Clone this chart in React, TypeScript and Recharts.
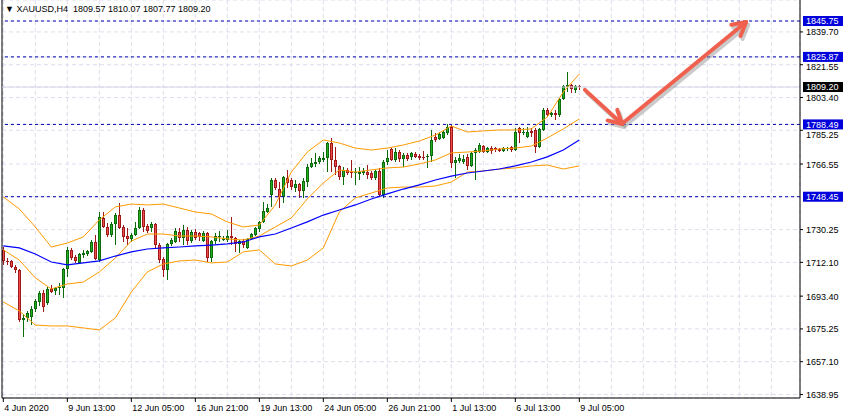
import React from "react";
import {
  ComposedChart,
  Bar,
  Line,
  XAxis,
  YAxis,
  CartesianGrid,
  ReferenceLine
} from "recharts";

// XAUUSD H4 candles, one entry per bar (bar 0 = leftmost)
const opens = [
  1719.0, 1712.9, 1712.9, 1709.6, 1707.9, 1680.2, 1681.3, 1681.9, 1686.3, 1690.2,
  1695.2, 1689.6, 1697.4, 1696.3, 1697.9, 1697.9, 1708.5, 1719.0, 1715.1, 1711.8,
  1716.2, 1716.7, 1717.9, 1723.4, 1713.4, 1736.7, 1731.7, 1727.3, 1733.4, 1738.3,
  1731.7, 1726.7, 1725.1, 1727.3, 1731.2, 1741.1, 1732.3, 1731.2, 1733.4, 1721.7,
  1714.0, 1707.9, 1722.3, 1723.4, 1728.9, 1725.6, 1730.0, 1723.9, 1728.9, 1728.4,
  1723.9, 1728.4, 1714.5, 1723.9, 1726.2, 1725.1, 1724.5, 1726.7, 1725.6, 1722.3,
  1723.9, 1720.1, 1725.1, 1727.3, 1730.6, 1734.5, 1740.0, 1749.4, 1757.7, 1752.7,
  1748.3, 1758.8, 1757.7, 1753.3, 1755.5, 1751.6, 1756.6, 1764.9, 1766.6, 1767.7,
  1768.8, 1769.9, 1778.2, 1768.8, 1765.5, 1759.4, 1763.3, 1762.1, 1761.6, 1761.0,
  1761.6, 1762.1, 1761.6, 1758.8, 1762.7, 1749.4, 1767.7, 1774.9, 1768.8, 1773.2,
  1769.3, 1771.6, 1770.4, 1772.1, 1771.0, 1770.4, 1770.4, 1771.0, 1781.5, 1780.4,
  1781.0, 1783.8, 1787.1, 1767.1, 1768.2, 1767.7, 1770.4, 1765.5, 1772.7, 1773.2,
  1776.5, 1773.2, 1775.4, 1775.4, 1774.9, 1773.8, 1774.9, 1776.0, 1774.3, 1786.5,
  1783.8, 1781.5, 1784.9, 1785.4, 1776.0, 1785.4, 1796.5, 1793.7, 1794.8, 1793.7,
  1802.6, 1809.2, 1810.3, 1807.6, 1809.57
];
const highs = [
  1720.6, 1714.5, 1713.4, 1710.7, 1708.5, 1683.5, 1685.2, 1688.0, 1691.8, 1696.3,
  1696.8, 1698.5, 1699.6, 1698.5, 1700.7, 1709.0, 1720.6, 1720.1, 1716.2, 1717.3,
  1719.0, 1719.0, 1724.5, 1727.3, 1740.0, 1740.0, 1733.9, 1734.5, 1739.5, 1745.0,
  1732.8, 1731.2, 1728.4, 1734.5, 1742.8, 1742.2, 1733.4, 1734.5, 1733.9, 1722.8,
  1715.1, 1722.8, 1725.6, 1731.2, 1731.2, 1732.8, 1731.7, 1730.0, 1730.6, 1728.9,
  1729.5, 1728.9, 1724.5, 1728.4, 1729.5, 1726.7, 1730.0, 1737.2, 1726.2, 1724.5,
  1725.1, 1725.6, 1728.4, 1731.7, 1735.0, 1745.5, 1744.4, 1758.8, 1758.8, 1756.6,
  1759.9, 1763.3, 1758.8, 1757.7, 1756.1, 1758.8, 1766.6, 1769.9, 1772.7, 1771.0,
  1773.2, 1778.8, 1781.0, 1776.0, 1766.0, 1764.9, 1764.4, 1768.8, 1764.4, 1764.9,
  1764.4, 1766.0, 1762.7, 1763.3, 1764.4, 1768.8, 1774.3, 1775.4, 1775.4, 1774.3,
  1772.7, 1772.7, 1773.2, 1773.2, 1772.1, 1773.8, 1772.1, 1785.4, 1783.8, 1784.3,
  1785.4, 1788.7, 1788.2, 1770.4, 1772.1, 1771.6, 1772.1, 1773.2, 1775.4, 1778.2,
  1777.1, 1776.0, 1776.5, 1776.0, 1775.4, 1776.0, 1776.0, 1776.5, 1786.5, 1787.1,
  1786.5, 1787.1, 1786.5, 1786.5, 1786.5, 1797.6, 1797.6, 1795.4, 1796.5, 1803.1,
  1810.3, 1817.5, 1810.9, 1810.3, 1810.07
];
const lows = [
  1710.7, 1710.7, 1709.0, 1706.2, 1679.1, 1670.8, 1679.1, 1677.4, 1684.6, 1688.0,
  1684.6, 1688.5, 1695.2, 1694.1, 1694.1, 1692.4, 1704.0, 1713.4, 1711.8, 1711.2,
  1714.5, 1715.6, 1717.3, 1713.4, 1712.3, 1731.2, 1726.2, 1726.2, 1721.7, 1730.6,
  1723.4, 1721.7, 1723.4, 1726.7, 1730.6, 1728.9, 1728.4, 1728.9, 1720.1, 1711.8,
  1704.0, 1702.4, 1721.2, 1722.8, 1723.4, 1721.7, 1721.7, 1722.8, 1724.5, 1723.9,
  1723.4, 1712.3, 1712.3, 1722.3, 1723.4, 1723.9, 1723.4, 1721.7, 1717.9, 1717.3,
  1720.1, 1719.5, 1724.5, 1726.7, 1728.9, 1733.9, 1739.5, 1742.8, 1752.2, 1742.2,
  1745.0, 1753.3, 1752.2, 1751.1, 1747.8, 1747.8, 1753.8, 1764.4, 1764.9, 1766.6,
  1767.7, 1762.1, 1762.1, 1760.5, 1757.7, 1755.0, 1760.5, 1758.8, 1755.0, 1757.7,
  1760.5, 1758.3, 1757.7, 1757.7, 1748.3, 1747.8, 1766.0, 1768.2, 1767.7, 1767.7,
  1764.9, 1768.2, 1768.8, 1769.9, 1768.8, 1768.8, 1764.4, 1767.7, 1778.8, 1779.9,
  1780.4, 1782.6, 1764.4, 1758.8, 1767.1, 1766.6, 1763.3, 1764.9, 1757.7, 1772.7,
  1772.7, 1772.7, 1772.1, 1773.2, 1773.2, 1773.2, 1773.8, 1773.2, 1773.8, 1778.2,
  1782.6, 1781.0, 1781.5, 1772.7, 1775.4, 1784.9, 1792.6, 1792.6, 1791.0, 1792.6,
  1802.0, 1806.4, 1805.9, 1805.9, 1807.77
];
const closes = [
  1712.9, 1712.3, 1709.6, 1707.9, 1680.2, 1681.3, 1684.1, 1686.3, 1690.7, 1695.2,
  1687.4, 1697.4, 1695.7, 1697.9, 1698.5, 1708.5, 1719.0, 1714.5, 1712.9, 1716.7,
  1717.3, 1718.4, 1723.4, 1714.0, 1737.2, 1731.7, 1727.3, 1733.4, 1738.3, 1731.2,
  1726.2, 1725.1, 1727.3, 1731.2, 1741.1, 1731.7, 1729.5, 1733.4, 1721.7, 1713.4,
  1707.9, 1722.3, 1724.5, 1729.5, 1725.6, 1730.0, 1723.9, 1728.9, 1725.6, 1726.2,
  1728.4, 1714.5, 1723.9, 1726.7, 1726.7, 1725.3, 1726.7, 1725.6, 1722.3, 1723.9,
  1721.7, 1725.1, 1727.8, 1731.2, 1734.5, 1740.6, 1742.2, 1757.7, 1753.3, 1748.3,
  1759.4, 1756.1, 1753.8, 1755.5, 1751.6, 1757.2, 1764.9, 1767.1, 1767.7, 1769.9,
  1769.9, 1778.2, 1768.8, 1764.9, 1759.4, 1763.3, 1761.6, 1761.6, 1762.1, 1762.1,
  1762.7, 1760.5, 1758.8, 1762.7, 1749.4, 1767.7, 1769.9, 1768.8, 1773.2, 1769.3,
  1771.6, 1769.3, 1772.7, 1770.4, 1769.9, 1769.9, 1771.0, 1779.9, 1779.9, 1783.2,
  1784.3, 1787.1, 1767.1, 1768.8, 1769.9, 1769.3, 1765.5, 1772.7, 1774.3, 1777.1,
  1773.2, 1775.4, 1773.8, 1774.3, 1773.8, 1775.4, 1775.4, 1774.3, 1784.3, 1783.8,
  1784.3, 1784.3, 1783.8, 1776.0, 1786.0, 1796.5, 1793.7, 1794.8, 1793.7, 1802.6,
  1809.8, 1810.3, 1808.1, 1809.8, 1809.2
];

// indicator lines
const bandStep = 4;
const bbUpper = [
  1748.3, 1741.7, 1731.7, 1720.6, 1722.8, 1726.2, 1735.6, 1742.8, 1744.4, 1743.9,
  1744.4, 1742.2, 1740.0, 1738.9, 1734.5, 1731.7, 1732.8, 1743.9, 1762.1, 1773.2,
  1779.9, 1778.2, 1775.4, 1774.3, 1775.4, 1777.1, 1779.3, 1782.6, 1787.6, 1784.3,
  1784.9, 1785.4, 1785.4, 1786.0, 1792.6, 1806.4, 1816.4
];
const bbMiddle = [
  1719.0, 1713.4, 1703.5, 1697.4, 1700.1, 1701.2, 1706.8, 1714.5, 1723.9, 1727.8,
  1727.8, 1726.7, 1726.7, 1726.2, 1725.1, 1724.5, 1726.7, 1731.7, 1736.7, 1747.2,
  1756.1, 1763.3, 1762.1, 1763.3, 1764.4, 1764.9, 1766.6, 1768.8, 1772.7, 1773.2,
  1773.8, 1774.9, 1775.4, 1776.5, 1781.0, 1786.0, 1791.5
];
const bbLower = [
  1690.2, 1685.2, 1677.4, 1676.9, 1676.9, 1675.8, 1674.7, 1681.3, 1695.7, 1706.8,
  1711.2, 1712.9, 1713.4, 1711.8, 1712.3, 1717.9, 1719.0, 1711.2, 1710.1, 1713.4,
  1720.1, 1740.0, 1747.8, 1750.5, 1753.3, 1753.8, 1753.8, 1754.4, 1756.6, 1762.1,
  1762.7, 1763.8, 1764.4, 1765.5, 1766.0, 1763.8, 1765.5
];
const maSlow = [
  1721.2, 1720.1, 1716.7, 1712.3, 1710.7, 1711.8, 1712.9, 1715.6, 1717.9, 1719.5,
  1720.1, 1720.6, 1721.2, 1721.7, 1722.3, 1723.4, 1726.2, 1727.8, 1731.1, 1734.5,
  1738.3, 1741.1, 1743.9, 1747.2, 1750.0, 1752.7, 1755.0, 1757.7, 1759.9, 1761.6,
  1762.7, 1763.8, 1765.5, 1767.7, 1770.5, 1774.3, 1779.9
];

const priceTicks = [
  1638.95, 1657.1, 1675.25, 1693.4, 1712.1, 1730.25, 1766.55, 1785.25,
  1803.4, 1821.55, 1839.7
];
const timeLabelBars = [0, 16, 32, 48, 64, 80, 96, 112, 128, 144];
const timeLabels = [
  "4 Jun 2020", "9 Jun 13:00", "12 Jun 05:00", "16 Jun 21:00", "19 Jun 13:00",
  "24 Jun 05:00", "26 Jun 21:00", "1 Jul 13:00", "6 Jul 13:00", "9 Jul 05:00"
];
const levels = [1845.75, 1825.87, 1788.49, 1748.45];
const bid = 1809.2;
const arrowLegs = [
  { x1: 145.4, y1: 1807.6, x2: 154.7, y2: 1788.7 },
  { x1: 154.9, y1: 1789.3, x2: 185.7, y2: 1845.2 }
];

const X_DOMAIN: [number, number] = [-0.33, 199.17];
const Y_DOMAIN: [number, number] = [1637.0, 1857.38];
const PLOT_H = 398;
const PX_PER_UNIT = PLOT_H / (Y_DOMAIN[1] - Y_DOMAIN[0]);
const gridBars = Array.from({ length: 25 }, (_, k) => k * 8);
const FONT = "'Liberation Sans', Arial, sans-serif";
// plain labels first, then the price tags so they sit on top
const axisTicks = [...priceTicks, bid, ...levels];

const rows = opens.map((o, i) => {
  const onStep = i % bandStep === 0;
  const k = i / bandStep;
  return {
    i,
    o,
    h: highs[i],
    l: lows[i],
    c: closes[i],
    range: [lows[i], highs[i]],
    upper: onStep ? bbUpper[k] : null,
    middle: onStep ? bbMiddle[k] : null,
    lower: onStep ? bbLower[k] : null,
    slow: onStep ? maSlow[k] : null
  };
});

const Candle = (props: any) => {
  const { x, y, width, height, payload } = props;
  if (!payload) return <g />;
  const { o, h, l, c } = payload;
  const top = Math.min(y, y + height);
  const span = Math.abs(height);
  const k = h === l ? 0 : span / (h - l);
  const yOf = (v: number) => top + (h - v) * k;
  const cx = Math.round(x + width / 2);
  const up = c >= o;
  const edge = up ? "#0b6b0b" : "#a01818";
  const fill = up ? "#22b022" : "#ec4e4e";
  const bTop = yOf(Math.max(o, c));
  const bH = Math.max(1, yOf(Math.min(o, c)) - bTop);
  return (
    <g shapeRendering="crispEdges">
      <rect x={cx} y={top} width={1} height={Math.max(1, span)} fill={edge} />
      <rect x={cx - 1} y={bTop} width={3} height={bH} fill={edge} />
      {bH > 2 && <rect x={cx} y={bTop + 1} width={1} height={bH - 2} fill={fill} />}
    </g>
  );
};

const PriceTick = ({ x, y, payload }: any) => {
  const v = Number(payload.value);
  const isLevel = levels.includes(v);
  const isBid = v === bid;
  if (isLevel || isBid) {
    return (
      <g>
        <rect x={x + 3} y={y - 5} width={40} height={10} fill={isBid ? "#000" : "#0000dc"} />
        <text x={x + 6} y={y + 3.3} fontSize={9} fontFamily={FONT} fill="#fff">
          {v.toFixed(2)}
        </text>
      </g>
    );
  }
  // a tag just above pushes the plain label down a little so both stay readable
  let shift = 0;
  levels.forEach((lv) => {
    const gap = (lv - v) * PX_PER_UNIT;
    if (gap > 0 && gap < 14) shift = Math.max(shift, 13.5 - (gap + 3.5));
  });
  return (
    <g>
      <line x1={x} x2={x + 3} y1={y} y2={y} stroke="#000" />
      <text x={x + 6} y={y + 3.5 + shift} fontSize={9} fontFamily={FONT} fill="#000">
        {v.toFixed(2)}
      </text>
    </g>
  );
};

const TimeTick = ({ x, y, payload }: any) => {
  const k = timeLabelBars.indexOf(payload.value);
  if (k < 0) return <g />;
  return (
    <g>
      <line x1={x} x2={x} y1={y} y2={y + 4} stroke="#000" />
      <text x={x + 1} y={y + 13} fontSize={9} fontFamily={FONT} fill="#000">
        {timeLabels[k]}
      </text>
    </g>
  );
};

const ArrowShape = (p: any) => {
  const { x1, y1, x2, y2 } = p;
  if ([x1, y1, x2, y2].some((v) => typeof v !== "number")) return <g />;
  const ang = Math.atan2(y2 - y1, x2 - x1);
  const barb = 15;
  const spread = 0.5;
  const b1x = x2 - barb * Math.cos(ang - spread);
  const b1y = y2 - barb * Math.sin(ang - spread);
  const b2x = x2 - barb * Math.cos(ang + spread);
  const b2y = y2 - barb * Math.sin(ang + spread);
  const draw = (dx: number, dy: number, color: string, op: number) => (
    <g transform={`translate(${dx},${dy})`} opacity={op} stroke={color} strokeWidth={4} strokeLinecap="round" fill="none">
      <line x1={x1} y1={y1} x2={x2} y2={y2} />
      <line x1={x2} y1={y2} x2={b1x} y2={b1y} />
      <line x1={x2} y1={y2} x2={b2x} y2={b2y} />
    </g>
  );
  return (
    <g>
      {draw(2, 3, "#8c8c8c", 0.45)}
      {draw(0, 0, "#f0604e", 1)}
    </g>
  );
};

const App = () => {
  return (
    <div style={{ position: "absolute", left: 0, top: 0, width: 846, height: 419, background: "#fff" }}>
      <ComposedChart
        width={846}
        height={419}
        data={rows}
        margin={{ top: 0, right: 0, bottom: 0, left: 2 }}
      >
        <CartesianGrid stroke="#dedeee" strokeDasharray="4 3" />
        <XAxis
          dataKey="i"
          type="number"
          domain={X_DOMAIN}
          allowDataOverflow
          ticks={gridBars}
          interval={0}
          height={21}
          tickSize={0}
          tickMargin={0}
          tickLine={false}
          axisLine={{ stroke: "#000" }}
          tick={<TimeTick />}
        />
        <YAxis
          orientation="right"
          type="number"
          domain={Y_DOMAIN}
          allowDataOverflow
          ticks={axisTicks}
          interval={0}
          width={46}
          tickSize={0}
          tickMargin={0}
          tickLine={false}
          axisLine={{ stroke: "#000" }}
          tick={<PriceTick />}
        />
        <ReferenceLine x={X_DOMAIN[0]} stroke="#000" />
        <ReferenceLine y={bid} stroke="#d4d4e4" />
        {levels.map((v) => (
          <ReferenceLine key={v} y={v} stroke="#0000b4" strokeDasharray="3 3" />
        ))}
        <Line dataKey="upper" stroke="#ff9a00" strokeWidth={1} dot={false} connectNulls isAnimationActive={false} />
        <Line dataKey="middle" stroke="#ff9a00" strokeWidth={1} dot={false} connectNulls isAnimationActive={false} />
        <Line dataKey="lower" stroke="#ff9a00" strokeWidth={1} dot={false} connectNulls isAnimationActive={false} />
        <Line dataKey="slow" stroke="#0000ff" strokeWidth={1.2} dot={false} connectNulls isAnimationActive={false} />
        <Bar dataKey="range" barSize={3} shape={<Candle />} isAnimationActive={false} />
        {arrowLegs.map((a, k) => (
          <ReferenceLine
            key={k}
            segment={[{ x: a.x1, y: a.y1 }, { x: a.x2, y: a.y2 }]}
            ifOverflow="visible"
            shape={ArrowShape}
          />
        ))}
      </ComposedChart>
      <div
        style={{
          position: "absolute",
          left: 5,
          top: 3,
          fontFamily: FONT,
          fontSize: 9,
          color: "#000",
          whiteSpace: "pre",
          lineHeight: "12px"
        }}
      >
        {"\u25BC XAUUSD,H4  1809.57 1810.07 1807.77 1809.20"}
      </div>
    </div>
  );
};

export default App;
